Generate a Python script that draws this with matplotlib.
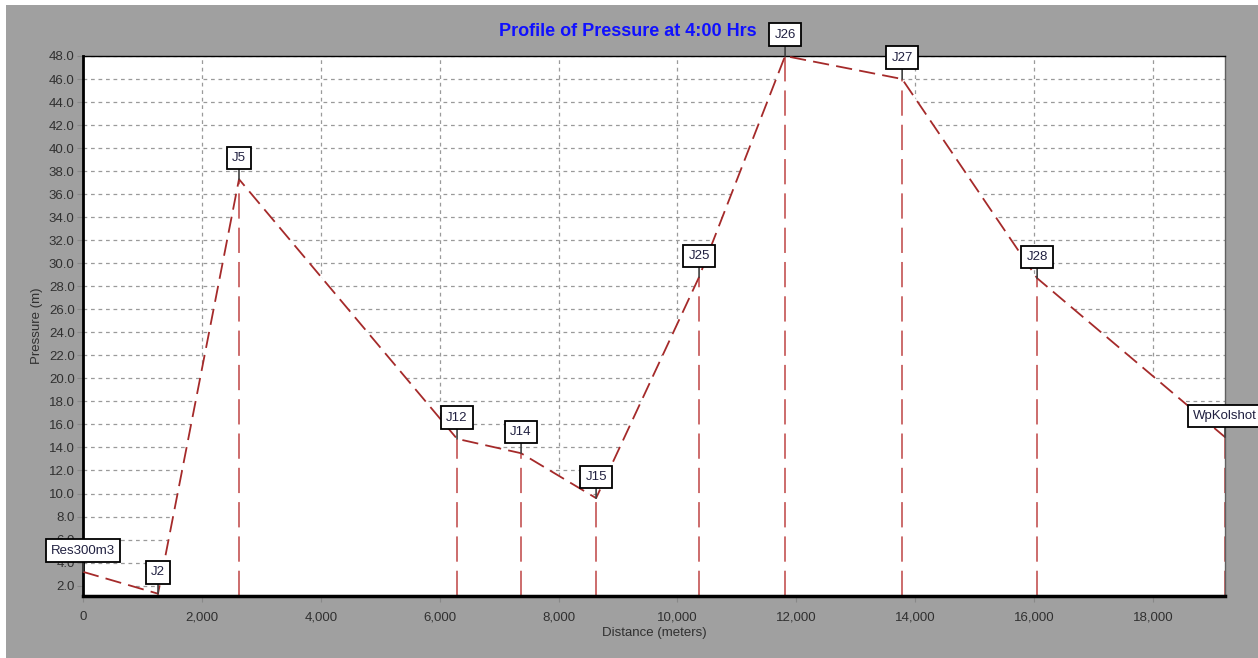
import matplotlib
matplotlib.use('Agg')
import matplotlib.pyplot as plt
from matplotlib.patches import Rectangle
from matplotlib.ticker import FuncFormatter

plt.rcParams['font.family'] = ['Liberation Sans Narrow', 'Liberation Sans', 'DejaVu Sans']

# Node profile data
nodes = ['Res300m3', 'J2', 'J5', 'J12', 'J14', 'J15', 'J25', 'J26', 'J27', 'J28', 'WpKolshot']
distance = [0, 1262, 2624, 6292, 7369, 8631, 10363, 11810, 13779, 16050, 19210]
pressure = [3.2, 1.3, 37.3, 14.75, 13.5, 9.6, 28.8, 48.0, 46.0, 28.7, 14.9]

x_ticks = list(range(0, 18001, 2000))
y_ticks = [2 * i for i in range(1, 25)]

y_min, y_max = 1.1, 48.0
x_min, x_max = 0, 19210

fig = plt.figure(figsize=(12.58, 6.58), dpi=100)
fig.patch.set_facecolor('white')
# grey panel (thin white strip at left and top like the screenshot)
fig.patches.append(Rectangle((6 / 1258, 0), 1, 1 - 5 / 658, transform=fig.transFigure,
                             facecolor='#a0a0a0', edgecolor='none', zorder=-10))

ax = fig.add_axes([83 / 1258, 1 - 596 / 658, (1225 - 83) / 1258, (596 - 56) / 658])
ax.set_zorder(1)
ax.set_facecolor('white')
ax.set_xlim(x_min, x_max)
ax.set_ylim(y_min, y_max)

ax.set_xticks(x_ticks)
ax.set_yticks(y_ticks)
ax.xaxis.set_major_formatter(FuncFormatter(lambda v, p: '{:,.0f}'.format(v)))
ax.yaxis.set_major_formatter(FuncFormatter(lambda v, p: '{:.1f}'.format(v)))
ax.tick_params(axis='both', labelsize=9.5, colors='#888888', labelcolor='#303030', length=4, width=0.8)
ax.tick_params(axis='x', pad=7)
ax.tick_params(axis='y', pad=2)

# grid drawn by hand so the white fill below the profile can cover it
for xt in x_ticks[1:]:
    ax.axvline(xt, color='#9a9a9a', linestyle=(0, (3, 3)), linewidth=0.9, zorder=0.6)
for yt in y_ticks:
    ax.axhline(yt, color='#9a9a9a', linestyle=(0, (3, 3)), linewidth=0.9, zorder=0.6)

# white area under the profile hides the grid
ax.fill_between(distance, y_min, pressure, facecolor='white', edgecolor='none', zorder=1.5)

# vertical drop lines at each node
for d, p in zip(distance, pressure):
    ax.plot([d, d], [y_min, p], color='#c86060', linestyle=(0, (14, 5)), linewidth=1.3, zorder=2)

# pressure profile
ax.plot(distance, pressure, color='#a52a2a', linestyle=(0, (9, 4)), linewidth=1.3, zorder=3,
        clip_on=False)

# node labels
for name, d, p in zip(nodes, distance, pressure):
    ax.annotate(name, xy=(d, p), xytext=(0, 11), textcoords='offset points',
                ha='center', va='bottom', fontsize=9.5, color='#202040',
                bbox=dict(boxstyle='square,pad=0.4', facecolor='white', edgecolor='black', linewidth=1.3),
                arrowprops=dict(arrowstyle='-', color='#404040', linewidth=1.2, shrinkA=0, shrinkB=0),
                zorder=5, annotation_clip=False)

for side in ['left', 'bottom']:
    ax.spines[side].set_color('black')
ax.spines['left'].set_linewidth(2)
ax.spines['bottom'].set_linewidth(2.5)
ax.spines['top'].set_color('black')
ax.spines['top'].set_linewidth(1)
ax.spines['right'].set_color('#606060')
ax.spines['right'].set_linewidth(1)

ax.set_xlabel('Distance (meters)', fontsize=9.5, color='#303030', labelpad=3)
ax.set_ylabel('Pressure (m)', fontsize=9.5, color='#303030', labelpad=4)

fig.text(628 / 1258, 1 - 32 / 658, 'Profile of Pressure at 4:00 Hrs', ha='center', va='center',
         fontsize=13, fontweight='bold', color='#1010ff')

fig.savefig('out.png', dpi=100, facecolor=fig.get_facecolor())
